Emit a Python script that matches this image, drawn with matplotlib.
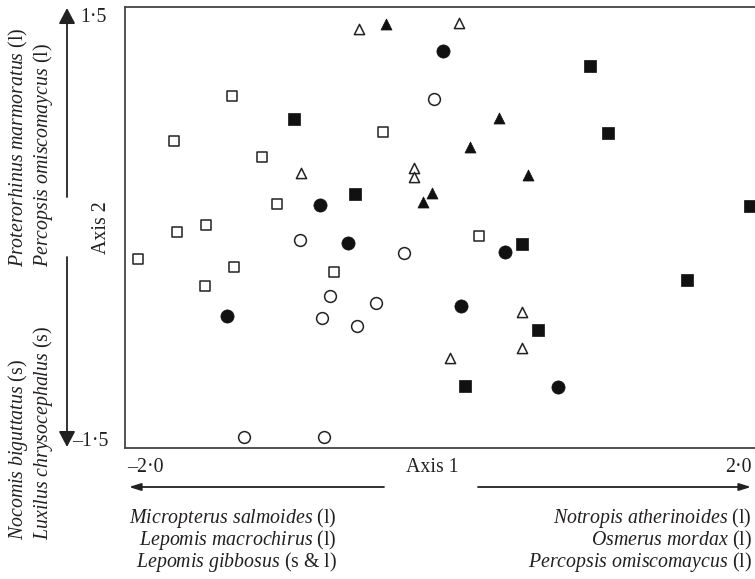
import matplotlib
matplotlib.use('Agg')
import matplotlib.pyplot as plt

plt.rcParams['font.family'] = 'Liberation Serif'
plt.rcParams['mathtext.fontset'] = 'custom'
plt.rcParams['mathtext.rm'] = 'Liberation Serif'
plt.rcParams['mathtext.it'] = 'Liberation Serif:italic'

# ordination scores (axis 1, axis 2)
open_sq_x = [-1.321, -1.689, -1.136, -0.368, -1.035, -1.486, -1.670, -1.917, -1.308, -0.679, -1.492, 0.241]
open_sq_y = [0.913, 0.598, 0.486, 0.661, 0.157, 0.010, -0.039, -0.228, -0.284, -0.319, -0.417, -0.067]
fill_sq_x = [-0.933, -0.546, 0.946, 1.054, 1.956, 0.514, 1.556, 0.616, 0.152]
fill_sq_y = [0.752, 0.227, 1.123, 0.654, 0.143, -0.123, -0.375, -0.725, -1.117]
open_tri_x = [-0.521, 0.114, -0.889, -0.171, -0.171, 0.514, 0.514, 0.057]
open_tri_y = [1.382, 1.424, 0.374, 0.409, 0.346, -0.598, -0.850, -0.920]
fill_tri_x = [-0.349, 0.368, 0.184, 0.552, -0.057, -0.114]
fill_tri_y = [1.417, 0.759, 0.556, 0.360, 0.234, 0.171]
fill_ci_x = [0.013, -0.768, -0.590, 0.406, -1.352, 0.127, 0.743]
fill_ci_y = [1.228, 0.150, -0.116, -0.179, -0.627, -0.557, -1.123]
open_ci_x = [-0.044, -0.895, -0.235, -0.705, -0.413, -0.756, -0.533, -1.244, -0.743]
open_ci_y = [0.892, -0.095, -0.186, -0.486, -0.536, -0.640, -0.696, -1.473, -1.473]

left_species = [('Micropterus salmoides', '(l)'), ('Lepomis macrochirus', '(l)'), ('Lepomis gibbosus', '(s & l)')]
right_species = [('Notropis atherinoides', '(l)'), ('Osmerus mordax', '(l)'), ('Percopsis omiscomaycus', '(l)')]
top_species = [('Proterorhinus marmoratus', '(l)'), ('Percopsis omiscomaycus', '(l)')]
bottom_species = [('Nocomis biguttatus', '(s)'), ('Luxilus chrysocephalus', '(s)')]

W, H = 755, 579
fig = plt.figure(figsize=(W / 100, H / 100), dpi=100)
ax = fig.add_axes([125 / W, 1 - 448 / H, 632 / W, 441 / H])
ax.set_xlim(-2.0, 2.0)
ax.set_ylim(-1.55, 1.536)
ax.set_xticks([])
ax.set_yticks([])
for side in ['left', 'top', 'bottom']:
    ax.spines[side].set_color('#444444')
    ax.spines[side].set_linewidth(1.3)
ax.spines['right'].set_visible(False)

ms = 9
ax.scatter(open_sq_x, open_sq_y, marker='s', s=ms * 6.3, facecolor='white', edgecolor='#222222', linewidth=1.1, zorder=3)
ax.scatter(fill_sq_x, fill_sq_y, marker='s', s=ms * 7, facecolor='#111111', edgecolor='#111111', linewidth=0.5, zorder=3)
ax.scatter(open_tri_x, open_tri_y, marker='^', s=ms * 6, facecolor='white', edgecolor='#222222', linewidth=1.1, zorder=3)
ax.scatter(fill_tri_x, fill_tri_y, marker='^', s=ms * 7, facecolor='#111111', edgecolor='#111111', linewidth=0.5, zorder=3)
ax.scatter(fill_ci_x, fill_ci_y, marker='o', s=ms * 10, facecolor='#111111', edgecolor='#111111', linewidth=0.5, zorder=3)
ax.scatter(open_ci_x, open_ci_y, marker='o', s=ms * 8, facecolor='white', edgecolor='#222222', linewidth=1.1, zorder=3)


def fx(px):
    return px / W


def fy(py):
    return 1 - py / H


def label(name, tag):
    return r'$\mathit{' + name.replace(' ', r'\ ') + '}$ ' + tag


fs = 14.3
tc = '#231f20'

# axis 1
fig.text(fx(127), fy(467), '\u20132\u00b70', fontsize=fs, ha='left', va='center', color=tc)
fig.text(fx(752), fy(467), '2\u00b70', fontsize=fs, ha='right', va='center', color=tc)
fig.text(fx(432), fy(467), 'Axis 1', fontsize=fs, ha='center', va='center', color=tc)
arr_h = dict(arrowstyle='-|>,head_length=0.7,head_width=0.22', color='#222222', lw=1.3,
             shrinkA=0, shrinkB=0, mutation_scale=10)
ax.annotate('', xy=(fx(129), fy(487)), xytext=(fx(384), fy(487)),
            xycoords='figure fraction', textcoords='figure fraction', arrowprops=arr_h, annotation_clip=False)
ax.annotate('', xy=(fx(751), fy(487)), xytext=(fx(478), fy(487)),
            xycoords='figure fraction', textcoords='figure fraction', arrowprops=arr_h, annotation_clip=False)

for i, (name, tag) in enumerate(left_species):
    fig.text(fx(337), fy(518 + 22 * i), label(name, tag), fontsize=fs, ha='right', va='center', color=tc)
for i, (name, tag) in enumerate(right_species):
    fig.text(fx(752), fy(518 + 22 * i), label(name, tag), fontsize=fs, ha='right', va='center', color=tc)

# axis 2
fig.text(fx(80), fy(17), '1\u00b75', fontsize=fs, ha='left', va='center', color=tc)
fig.text(fx(72), fy(442), '\u20131\u00b75', fontsize=fs, ha='left', va='center', color=tc)
fig.text(fx(102), fy(228), 'Axis 2', fontsize=fs, ha='center', va='center', rotation=90, color=tc)
arr_v = dict(arrowstyle='-|>,head_length=0.95,head_width=0.5', color='#222222', lw=1.3,
             shrinkA=0, shrinkB=0, mutation_scale=10)
ax.annotate('', xy=(fx(67), fy(8)), xytext=(fx(67), fy(197)),
            xycoords='figure fraction', textcoords='figure fraction', arrowprops=arr_v, annotation_clip=False)
ax.annotate('', xy=(fx(67), fy(447)), xytext=(fx(67), fy(257)),
            xycoords='figure fraction', textcoords='figure fraction', arrowprops=arr_v, annotation_clip=False)

for (name, tag), x in zip(top_species, [18, 43]):
    fig.text(fx(x), fy(267), label(name, tag), fontsize=fs, rotation=90, rotation_mode='anchor',
             ha='left', va='center', color=tc)
for (name, tag), x in zip(bottom_species, [18, 43]):
    fig.text(fx(x), fy(540), label(name, tag), fontsize=fs, rotation=90, rotation_mode='anchor',
             ha='left', va='center', color=tc)

fig.savefig('out.png', dpi=100)
